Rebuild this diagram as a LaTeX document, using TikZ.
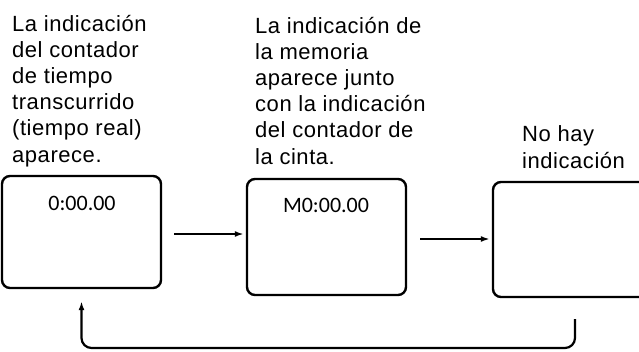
\documentclass[tikz,border=0pt]{standalone}
\usepackage{fontspec}
\setmainfont{Liberation Sans}[LetterSpace=2.5]
\newfontfamily\dispfont{Carlito}
\usetikzlibrary{arrows.meta}
\begin{document}
\begin{tikzpicture}[x=1pt,y=-1pt,
  lbl/.style={anchor=base west, inner sep=0pt, align=left, font=\fontsize{22}{26.2}\selectfont},
  disp/.style={inner sep=0pt, font=\dispfont\fontsize{22}{26}\selectfont},
  screen/.style={draw, line width=2.4pt, rounded corners=8pt, inner sep=0pt},
  arr/.style={line width=2.2pt, -{Latex[length=9pt,width=6pt]}}]
\useasboundingbox (0,0) rectangle (639,351);
\clip (0,0) rectangle (639,351);
% labels (anchored at the baseline of their last line)
\node[lbl] (l1) at (12,162) {La indicación\\del contador\\de tiempo\\transcurrido\\(tiempo real)\\aparece.};
\node[lbl] (l2) at (255,164) {La indicación de\\la memoria\\aparece junto\\con la indicación\\del contador de\\la cinta.};
\node[lbl] (l3) at (522,168) {No hay\\indicación};
% screens
\node[screen, minimum width=159pt, minimum height=112pt] (s1) at (81.5,232) {};
\node[screen, minimum width=159pt, minimum height=116pt] (s2) at (326.5,237) {};
\node[screen, minimum width=160pt, minimum height=115pt] (s3) at (573,239.5) {};
% display texts
\node[disp] (d1) at (82,203) {0:00.00};
\node[disp] (d2) at (326,205) {M0:00.00};
% arrows
\draw[arr] ([xshift=12pt,yshift=-2pt]s1.east) -- ([xshift=-2pt,yshift=3pt]s2.west);
\draw[arr] ([xshift=13pt,yshift=-2pt]s2.east) -- ([xshift=-2pt,yshift=0.5pt]s3.west);
\coordinate (j) at ([xshift=2pt,yshift=-21pt]s3.south);
\coordinate (r) at ([yshift=-12pt]s1.south);
\draw[arr, rounded corners=10pt] (j) -- (j |- 0,348) -- (r |- 0,348) -- (r);
\end{tikzpicture}
\end{document}
